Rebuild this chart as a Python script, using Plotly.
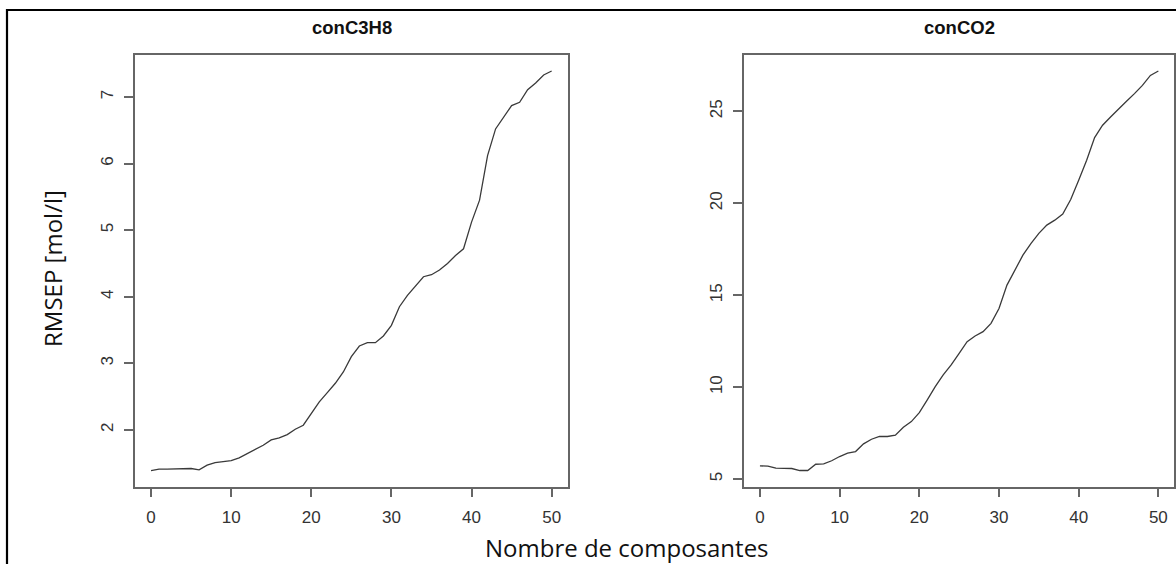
import plotly.graph_objects as go

components = list(range(51))
rmsep_c3h8 = [1.39, 1.41, 1.41, 1.41, 1.41, 1.42, 1.40, 1.47, 1.51, 1.52,
              1.54, 1.58, 1.64, 1.71, 1.77, 1.85, 1.88, 1.93, 2.01, 2.07,
              2.25, 2.42, 2.56, 2.70, 2.87, 3.10, 3.26, 3.31, 3.31, 3.41,
              3.57, 3.85, 4.02, 4.16, 4.30, 4.33, 4.40, 4.50, 4.62, 4.72,
              5.12, 5.45, 6.12, 6.52, 6.70, 6.87, 6.92, 7.11, 7.21, 7.33,
              7.39]
rmsep_co2 = [5.72, 5.71, 5.60, 5.60, 5.58, 5.47, 5.47, 5.81, 5.83, 6.00,
             6.23, 6.41, 6.50, 6.92, 7.17, 7.32, 7.32, 7.39, 7.82, 8.13,
             8.62, 9.31, 10.03, 10.67, 11.21, 11.84, 12.47, 12.78, 13.02, 13.47,
             14.28, 15.55, 16.40, 17.18, 17.81, 18.36, 18.81, 19.08, 19.41, 20.20,
             21.25, 22.34, 23.57, 24.24, 24.69, 25.14, 25.54, 25.96, 26.41, 26.95,
             27.19]
titles = ["conC3H8", "conCO2"]
x_ticks = [0, 10, 20, 30, 40, 50]
y_ticks_c3h8 = [2, 3, 4, 5, 6, 7]
y_ticks_co2 = [5, 10, 15, 20, 25]
y_title = "RMSEP [mol/l]"
x_title = "Nombre de composantes"

W, H = 1176, 564


def r_range(vals):
    lo, hi = min(vals), max(vals)
    d = (hi - lo) * 0.04
    return [lo - d, hi + d]


def px(x):
    return x / W


def py(y):
    return 1 - y / H


fig = go.Figure()
line_col = "#3a3a3a"
fig.add_trace(go.Scatter(x=components, y=rmsep_c3h8, mode="lines",
                         line=dict(color=line_col, width=1.3), xaxis="x", yaxis="y",
                         showlegend=False))
fig.add_trace(go.Scatter(x=components, y=rmsep_co2, mode="lines",
                         line=dict(color=line_col, width=1.3), xaxis="x2", yaxis="y2",
                         showlegend=False))

ydom = [py(486.5), py(55)]
xdom1 = [px(135), px(567.7)]
xdom2 = [px(744), px(1174.3)]

axcol = "#666666"
tickfont = dict(family="Liberation Sans, Arial", size=17, color="#333333")
common_x = dict(showgrid=False, zeroline=False, showline=True, linecolor=axcol,
                linewidth=1.6, mirror=True, ticks="outside", ticklen=9, tickwidth=1.6,
                tickcolor=axcol, tickfont=tickfont, ticklabelstandoff=5,
                tickvals=x_ticks, range=r_range(components))
common_y = dict(showgrid=False, zeroline=False, showline=True, linecolor=axcol,
                linewidth=1.6, mirror=True, ticks="outside", ticklen=9, tickwidth=1.6,
                tickcolor=axcol, tickfont=tickfont, tickangle=-90, ticklabelstandoff=4)

fig.update_layout(
    width=W, height=H,
    margin=dict(l=0, r=0, t=0, b=0),
    paper_bgcolor="white", plot_bgcolor="white",
    xaxis=dict(domain=xdom1, anchor="y", **common_x),
    yaxis=dict(domain=ydom, anchor="x", range=r_range(rmsep_c3h8),
               tickvals=y_ticks_c3h8, **common_y),
    xaxis2=dict(domain=xdom2, anchor="y2", **common_x),
    yaxis2=dict(domain=ydom, anchor="x2", range=r_range(rmsep_co2),
                tickvals=y_ticks_co2, **common_y),
)

title_font = dict(family="Liberation Sans, Arial", size=18.5, color="#111111")
anc = dict(xanchor="center", yanchor="middle", showarrow=False,
           xref="paper", yref="paper")
fig.add_annotation(text="<b>" + titles[0] + "</b>", x=px(351.5), y=py(28),
                   font=title_font, **anc)
fig.add_annotation(text="<b>" + titles[1] + "</b>", x=px(959), y=py(28),
                   font=title_font, **anc)
lab_font = dict(family="Open Sans", size=24, color="#111111")
fig.add_annotation(text=y_title, x=px(52), y=py(269), textangle=-90,
                   font=lab_font, **anc)
fig.add_annotation(text=x_title, x=px(627), y=py(547), font=lab_font, **anc)

# outer frame
fig.add_shape(type="rect", xref="paper", yref="paper", x0=px(7), x1=1.2,
              y0=-0.2, y1=py(10), line=dict(color="black", width=2.2))

fig.write_html("out.html", config={"displayModeBar": False},
               post_script="document.body.style.margin='0px';")
